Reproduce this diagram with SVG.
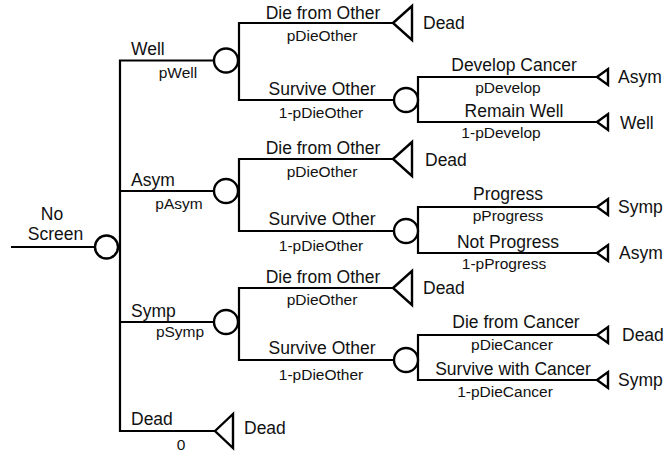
<svg xmlns="http://www.w3.org/2000/svg" width="665" height="455" viewBox="0 0 665 455">
<style>
.ln{fill:none;stroke:#000;stroke-width:2.2}
.ch{fill:#fff;stroke:#000;stroke-width:2.4}
.tm{fill:#fff;stroke:#000;stroke-width:2.4;stroke-linejoin:miter}
text{font-family:"Liberation Sans",Arial,sans-serif;fill:#111}
.m{font-size:17.5px}
.s{font-size:15.5px}
.c{text-anchor:middle}
</style>
<rect width="665" height="455" fill="#fff"/>
<g id="connectors">
<path class="ln" d="M11 247H95M118 247H120"/>
<path class="ln" d="M214 60.5H120V431H215M120 191H214M120 322H214"/>
<path class="ln" d="M393 23H239V100H394"/>
<path class="ln" d="M393 159H239V231H394"/>
<path class="ln" d="M393 288H239V360H394"/>
<path class="ln" d="M597 77H418V122H597"/>
<path class="ln" d="M597 207H418V253H597"/>
<path class="ln" d="M597 335H418V380H597"/>
</g>
<g id="root"><circle class="ch" cx="106.5" cy="247" r="11.5"/></g>
<g id="well"><circle class="ch" cx="226" cy="60.5" r="12"/></g>
<g id="asym"><circle class="ch" cx="226" cy="191" r="12"/></g>
<g id="symp"><circle class="ch" cx="226" cy="322" r="12"/></g>
<g id="dead0"><polygon class="tm" points="215,431 233,414 233,448"/><text class="m" x="244" y="434">Dead</text></g>
<g id="well-dead"><polygon class="tm" points="393,23 412,6 412,40"/><text class="m" x="423" y="29">Dead</text></g>
<g id="well-survive"><circle class="ch" cx="406" cy="100" r="12"/></g>
<g id="asym-dead"><polygon class="tm" points="393,159 412,142 412,176"/><text class="m" x="425" y="166">Dead</text></g>
<g id="asym-survive"><circle class="ch" cx="406" cy="231" r="12"/></g>
<g id="symp-dead"><polygon class="tm" points="393,288 412,271 412,305"/><text class="m" x="423" y="294">Dead</text></g>
<g id="symp-survive"><circle class="ch" cx="406" cy="360" r="12"/></g>
<g id="t-develop"><polygon class="tm" points="597,77 608,69 608,85"/><text class="m" x="618" y="83">Asym</text></g>
<g id="t-remain"><polygon class="tm" points="597,122 608,114 608,130"/><text class="m" x="620" y="129">Well</text></g>
<g id="t-progress"><polygon class="tm" points="597,207 608,199 608,215"/><text class="m" x="618" y="213">Symp</text></g>
<g id="t-notprogress"><polygon class="tm" points="597,253 608,245 608,261"/><text class="m" x="619" y="259">Asym</text></g>
<g id="t-diecancer"><polygon class="tm" points="597,335 608,327 608,343"/><text class="m" x="622" y="341">Dead</text></g>
<g id="t-survivecancer"><polygon class="tm" points="597,380 608,372 608,388"/><text class="m" x="618" y="386">Symp</text></g>
<g id="labels">
<text class="m c" x="52" y="220">No</text>
<text class="m c" x="55.5" y="240">Screen</text>
<text class="m" x="131" y="55">Well</text>
<text class="s c" x="178" y="78">pWell</text>
<text class="m" x="131" y="186">Asym</text>
<text class="s c" x="179" y="209">pAsym</text>
<text class="m" x="131" y="317">Symp</text>
<text class="s c" x="180" y="337">pSymp</text>
<text class="m" x="131" y="425">Dead</text>
<text class="s c" x="181" y="450">0</text>
<text class="m c" x="323" y="19">Die from Other</text>
<text class="s c" x="322" y="41">pDieOther</text>
<text class="m c" x="322" y="95">Survive Other</text>
<text class="s c" x="321" y="118">1-pDieOther</text>
<text class="m c" x="323" y="154">Die from Other</text>
<text class="s c" x="322" y="177">pDieOther</text>
<text class="m c" x="322" y="225">Survive Other</text>
<text class="s c" x="321" y="251">1-pDieOther</text>
<text class="m c" x="323" y="283">Die from Other</text>
<text class="s c" x="322" y="305">pDieOther</text>
<text class="m c" x="322" y="354">Survive Other</text>
<text class="s c" x="321" y="380">1-pDieOther</text>
<text class="m c" x="514" y="71">Develop Cancer</text>
<text class="s c" x="508" y="93">pDevelop</text>
<text class="m c" x="514" y="117">Remain Well</text>
<text class="s c" x="501" y="138">1-pDevelop</text>
<text class="m c" x="508" y="200">Progress</text>
<text class="s c" x="508" y="221">pProgress</text>
<text class="m c" x="508" y="248">Not Progress</text>
<text class="s c" x="504" y="269">1-pProgress</text>
<text class="m c" x="516" y="328">Die from Cancer</text>
<text class="s c" x="512" y="350">pDieCancer</text>
<text class="m c" x="513" y="375">Survive with Cancer</text>
<text class="s c" x="505" y="397">1-pDieCancer</text>
</g>
</svg>
